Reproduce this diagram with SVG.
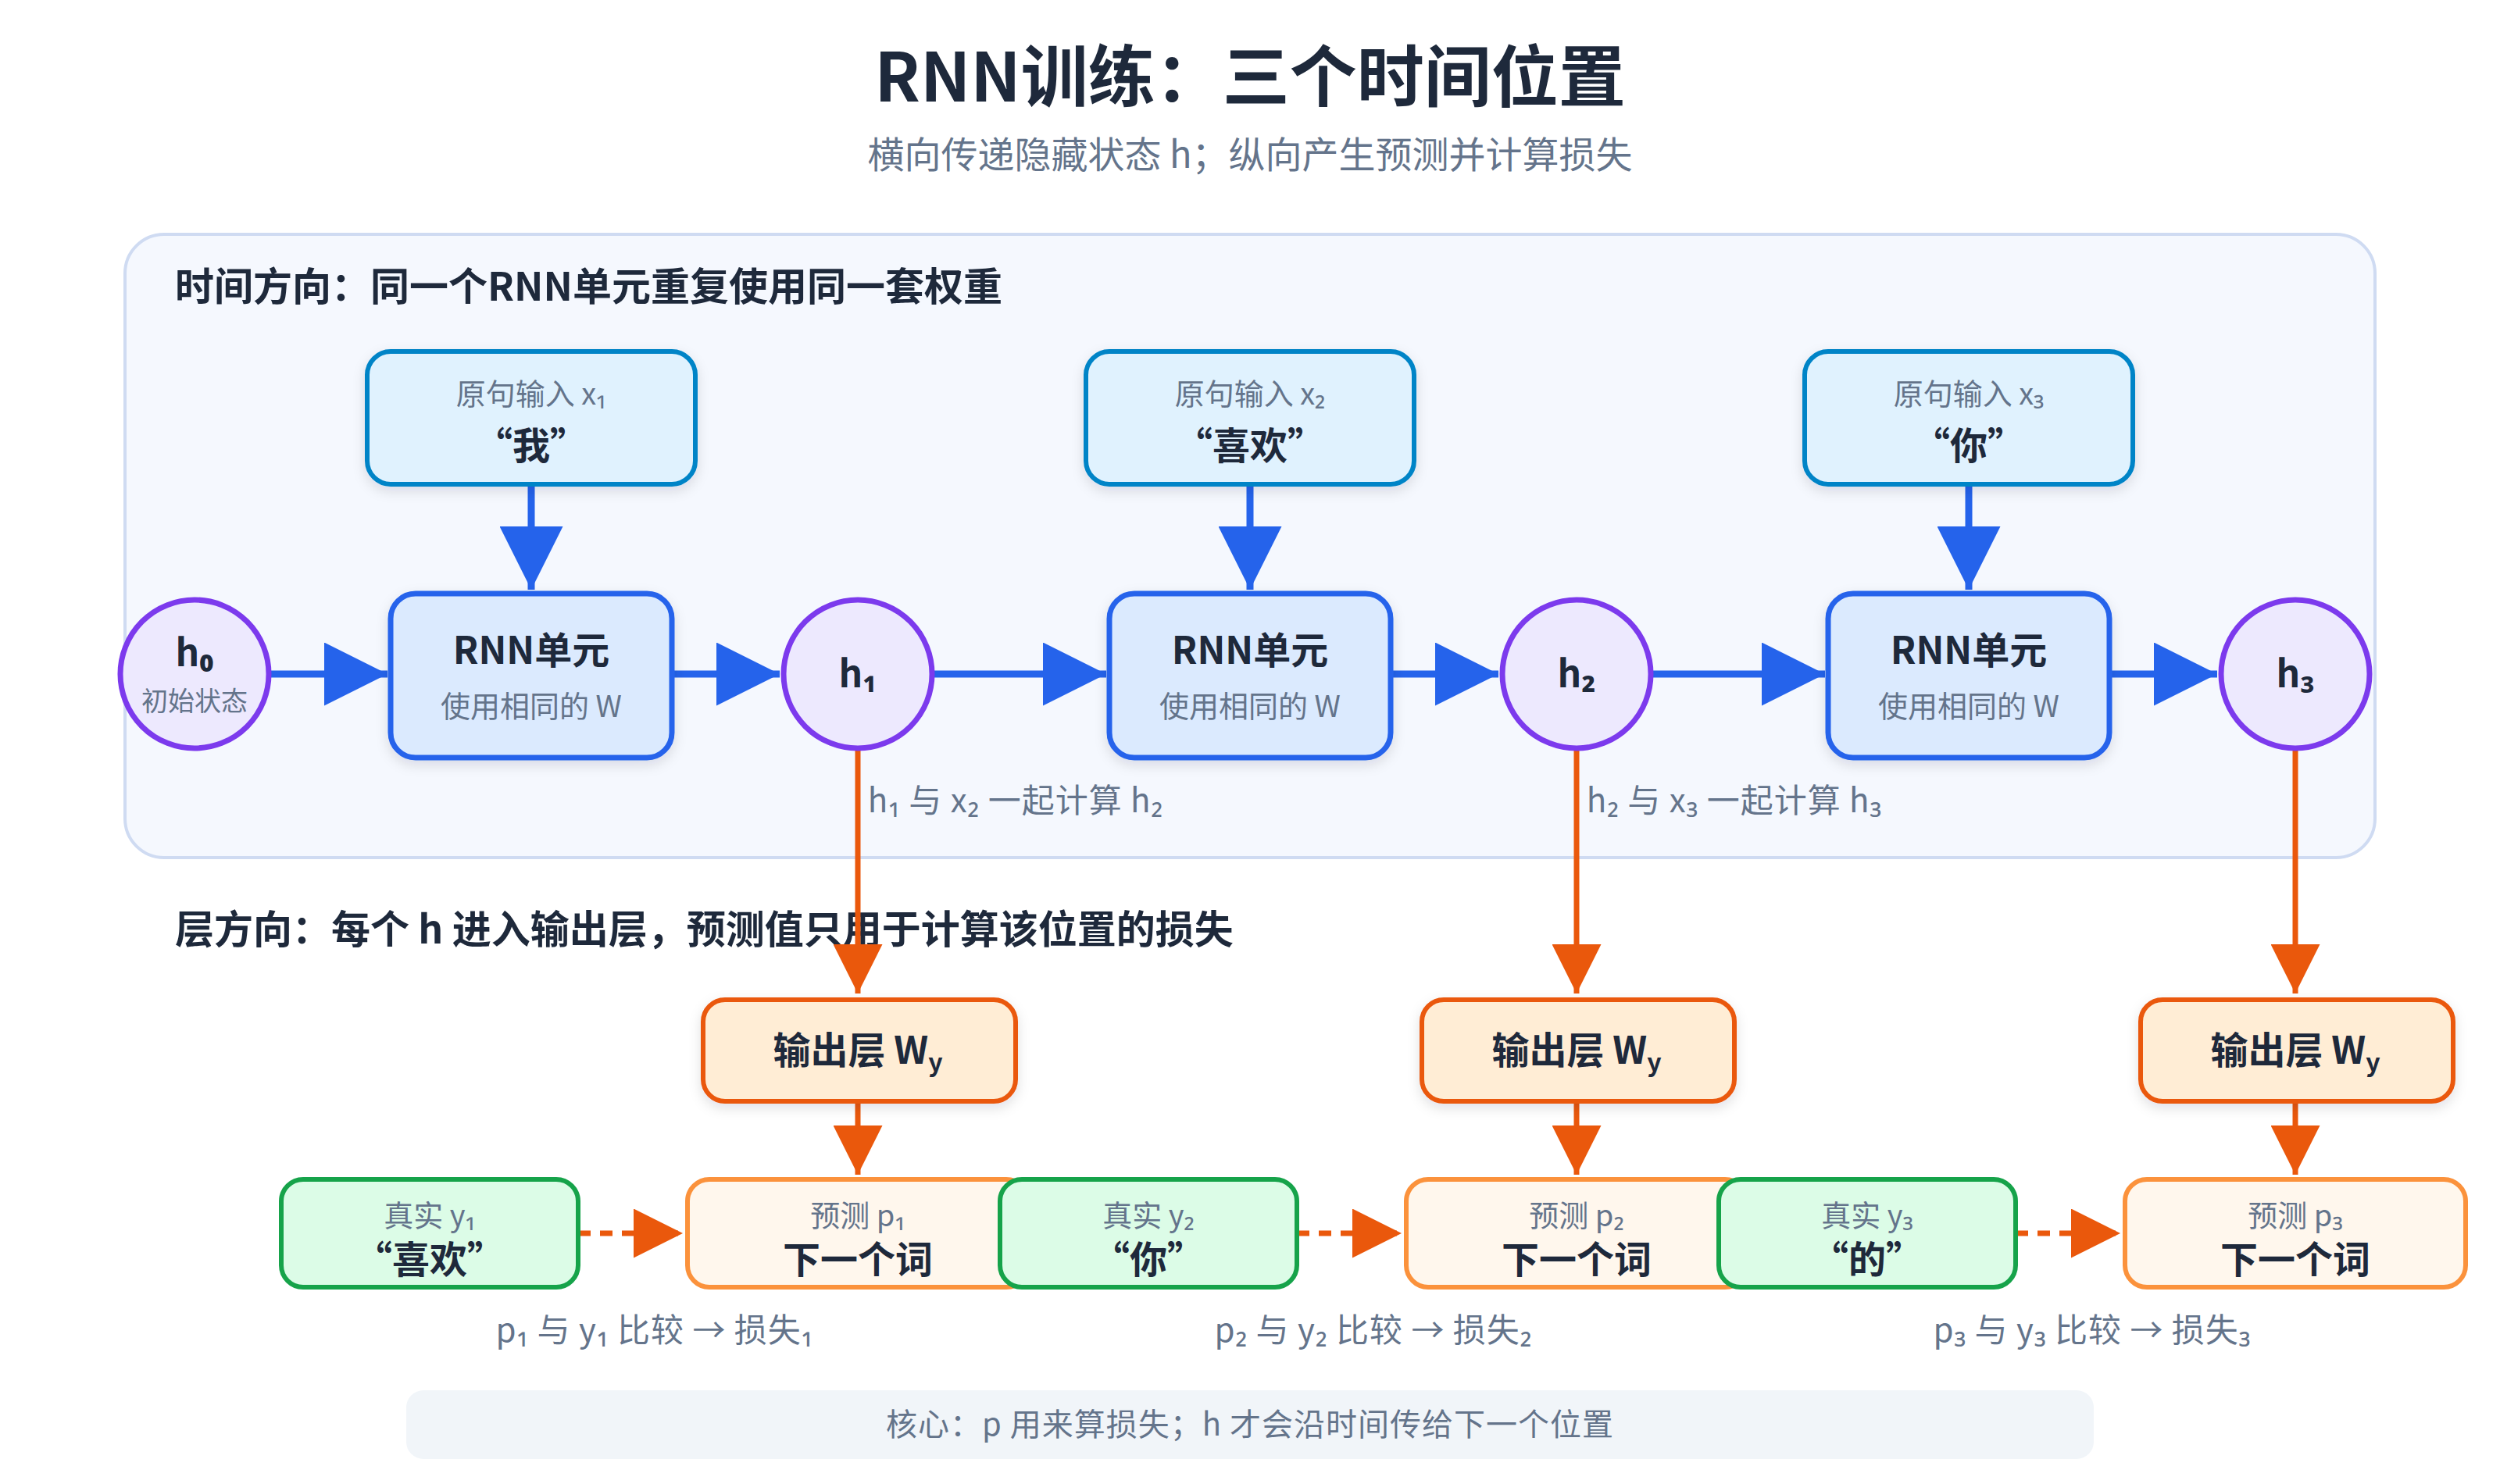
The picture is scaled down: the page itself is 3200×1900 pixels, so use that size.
<svg xmlns="http://www.w3.org/2000/svg" width="3200" height="1900" viewBox="0 0 3200 1900">
<style>
text{font-family:"Noto Sans CJK SC","Noto Sans",sans-serif}
.title{font-size:86px;font-weight:700;fill:#1e293b;text-anchor:middle}
.sub{font-size:47px;fill:#64748b;text-anchor:middle}
.sec{font-size:50px;font-weight:700;fill:#1e293b}
.g{font-size:38px;fill:#64748b;text-anchor:middle}
.lbl{font-size:42px;fill:#64748b;text-anchor:middle;letter-spacing:1px}
.b{font-size:48px;font-weight:700;fill:#1e293b;text-anchor:middle}
.inp{fill:#e0f2fe;stroke:#0284c7;stroke-width:6}
.rnn{fill:#dbeafe;stroke:#2563eb;stroke-width:7}
.hc{fill:#ede9fe;stroke:#7c3aed;stroke-width:7}
.out{fill:#ffedd5;stroke:#ea580c;stroke-width:6}
.pred{fill:#fff7ed;stroke:#fb923c;stroke-width:6}
.tru{fill:#dcfce7;stroke:#16a34a;stroke-width:6}
.ab{stroke:#2563eb;stroke-width:9;fill:none;marker-end:url(#mb)}
.ao{stroke:#ea580c;stroke-width:7;fill:none;marker-end:url(#mo)}
.ad{stroke:#ea580c;stroke-width:7;fill:none;stroke-dasharray:16 12;marker-end:url(#mo)}
</style>
<defs>
<marker id="mb" viewBox="0 0 10 10" refX="10" refY="5" markerWidth="9" markerHeight="9" markerUnits="strokeWidth" orient="auto"><path d="M0,0L10,5L0,10z" fill="#2563eb"/></marker>
<marker id="mo" viewBox="0 0 10 10" refX="10" refY="5" markerWidth="9" markerHeight="9" markerUnits="strokeWidth" orient="auto"><path d="M0,0L10,5L0,10z" fill="#ea580c"/></marker>
<filter id="sh" x="-10%" y="-10%" width="120%" height="130%"><feDropShadow dx="0" dy="6" stdDeviation="8" flood-color="#0f172a" flood-opacity="0.12"/></filter>
</defs>
<rect width="3200" height="1900" fill="#ffffff"/>
<text class="title" x="1600" y="130">RNN训练：三个时间位置</text>
<text class="sub" x="1600" y="215">横向传递隐藏状态 h；纵向产生预测并计算损失</text>
<rect x="160" y="300" width="2880" height="798" rx="50" fill="#f5f8fe" stroke="#cfdbf2" stroke-width="4"/>
<text class="sec" x="224" y="385">时间方向：同一个RNN单元重复使用同一套权重</text>
<text class="sec" x="224" y="1208">层方向：每个 h 进入输出层，预测值只用于计算该位置的损失</text>
<text class="lbl" x="1300" y="1040">h₁ 与 x₂ 一起计算 h₂</text>
<text class="lbl" x="2220" y="1040">h₂ 与 x₃ 一起计算 h₃</text>
<g id="connectors">
<path class="ab" d="M680,620V755"/><path class="ab" d="M1600,620V755"/><path class="ab" d="M2520,620V755"/>
<path class="ab" d="M345,863H496"/><path class="ab" d="M859,863H998"/>
<path class="ab" d="M1194,863H1416"/><path class="ab" d="M1779,863H1918"/>
<path class="ab" d="M2114,863H2336"/><path class="ab" d="M2699,863H2838"/>
<path class="ao" d="M1098,959V1272"/><path class="ao" d="M2018,959V1272"/><path class="ao" d="M2938,959V1272"/>
<path class="ao" d="M1098,1410V1504"/><path class="ao" d="M2018,1410V1504"/><path class="ao" d="M2938,1410V1504"/>
<path class="ad" d="M740,1579H874"/><path class="ad" d="M1660,1579H1794"/><path class="ad" d="M2580,1579H2714"/>
</g>
<g id="x1"><rect class="inp" x="470" y="450" width="420" height="170" rx="30" filter="url(#sh)"/><text class="g" x="680" y="518">原句输入 x₁</text><text class="b" x="680" y="588">“我”</text></g>
<g id="x2"><rect class="inp" x="1390" y="450" width="420" height="170" rx="30" filter="url(#sh)"/><text class="g" x="1600" y="518">原句输入 x₂</text><text class="b" x="1600" y="588">“喜欢”</text></g>
<g id="x3"><rect class="inp" x="2310" y="450" width="420" height="170" rx="30" filter="url(#sh)"/><text class="g" x="2520" y="518">原句输入 x₃</text><text class="b" x="2520" y="588">“你”</text></g>
<g id="rnn1"><rect class="rnn" x="500" y="760" width="360" height="210" rx="32" filter="url(#sh)"/><text class="b" x="680" y="850">RNN单元</text><text class="g" x="680" y="918">使用相同的 W</text></g>
<g id="rnn2"><rect class="rnn" x="1420" y="760" width="360" height="210" rx="32" filter="url(#sh)"/><text class="b" x="1600" y="850">RNN单元</text><text class="g" x="1600" y="918">使用相同的 W</text></g>
<g id="rnn3"><rect class="rnn" x="2340" y="760" width="360" height="210" rx="32" filter="url(#sh)"/><text class="b" x="2520" y="850">RNN单元</text><text class="g" x="2520" y="918">使用相同的 W</text></g>
<g id="h0"><circle class="hc" cx="249" cy="863" r="95"/><text class="b" x="249" y="853">h₀</text><text class="g" x="249" y="910" style="font-size:34px">初始状态</text></g>
<g id="h1"><circle class="hc" cx="1098" cy="863" r="95"/><text class="b" x="1098" y="880">h₁</text></g>
<g id="h2"><circle class="hc" cx="2018" cy="863" r="95"/><text class="b" x="2018" y="880">h₂</text></g>
<g id="h3"><circle class="hc" cx="2938" cy="863" r="95"/><text class="b" x="2938" y="880">h₃</text></g>
<g id="o1"><rect class="out" x="900" y="1280" width="400" height="130" rx="28" filter="url(#sh)"/><text class="b" x="1098" y="1362">输出层 W<tspan dy="10" font-size="32">y</tspan></text></g>
<g id="o2"><rect class="out" x="1820" y="1280" width="400" height="130" rx="28" filter="url(#sh)"/><text class="b" x="2018" y="1362">输出层 W<tspan dy="10" font-size="32">y</tspan></text></g>
<g id="o3"><rect class="out" x="2740" y="1280" width="400" height="130" rx="28" filter="url(#sh)"/><text class="b" x="2938" y="1362">输出层 W<tspan dy="10" font-size="32">y</tspan></text></g>
<g id="p1"><rect class="pred" x="880" y="1510" width="436" height="138" rx="28"/><text class="g" x="1098" y="1570">预测 p₁</text><text class="b" x="1098" y="1630">下一个词</text></g>
<g id="p2"><rect class="pred" x="1800" y="1510" width="436" height="138" rx="28"/><text class="g" x="2018" y="1570">预测 p₂</text><text class="b" x="2018" y="1630">下一个词</text></g>
<g id="p3"><rect class="pred" x="2720" y="1510" width="436" height="138" rx="28"/><text class="g" x="2938" y="1570">预测 p₃</text><text class="b" x="2938" y="1630">下一个词</text></g>
<g id="y1"><rect class="tru" x="360" y="1510" width="380" height="138" rx="28"/><text class="g" x="550" y="1570">真实 y₁</text><text class="b" x="550" y="1630">“喜欢”</text></g>
<g id="y2"><rect class="tru" x="1280" y="1510" width="380" height="138" rx="28"/><text class="g" x="1470" y="1570">真实 y₂</text><text class="b" x="1470" y="1630">“你”</text></g>
<g id="y3"><rect class="tru" x="2200" y="1510" width="380" height="138" rx="28"/><text class="g" x="2390" y="1570">真实 y₃</text><text class="b" x="2390" y="1630">“的”</text></g>
<text class="lbl" x="838" y="1718">p₁ 与 y₁ 比较 → 损失₁</text>
<text class="lbl" x="1758" y="1718">p₂ 与 y₂ 比较 → 损失₂</text>
<text class="lbl" x="2678" y="1718">p₃ 与 y₃ 比较 → 损失₃</text>
<g id="note"><rect x="520" y="1780" width="2160" height="88" rx="22" fill="#f1f5f9"/><text class="lbl" x="1600" y="1838" style="font-size:40px">核心：p 用来算损失；h 才会沿时间传给下一个位置</text></g>
</svg>
